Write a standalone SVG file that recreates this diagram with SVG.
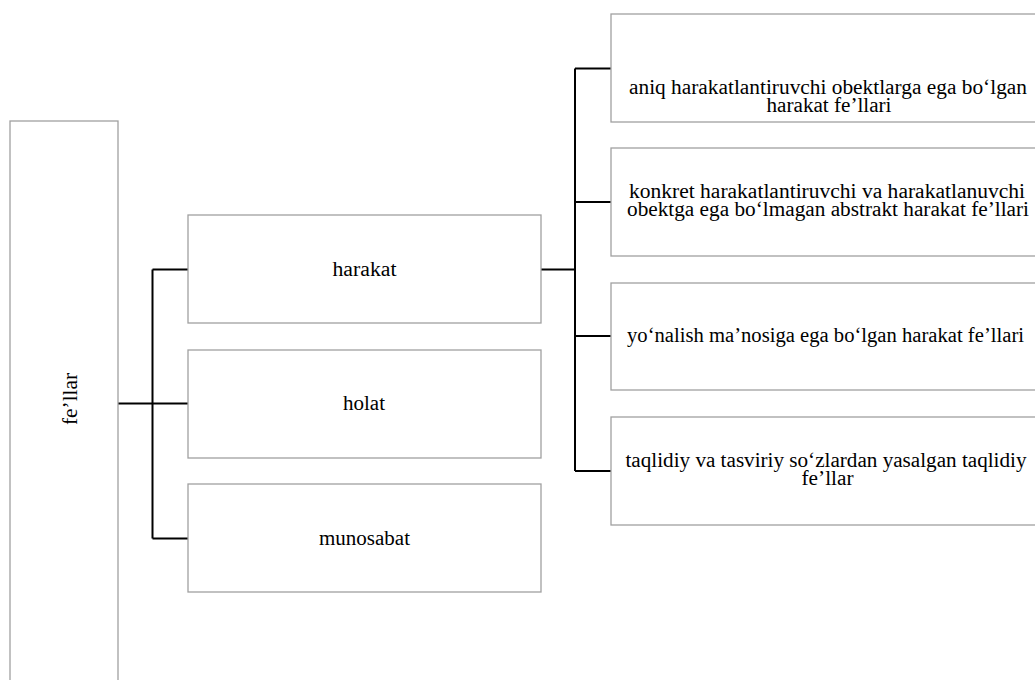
<svg xmlns="http://www.w3.org/2000/svg" width="1035" height="680" viewBox="0 0 1035 680">
<style>
.box{fill:#fff;stroke:#a0a0a0;stroke-width:1.3}
.t{font-family:"Liberation Serif","Times New Roman",serif;font-size:21.3px;fill:#000;text-anchor:middle}
.c{fill:none;stroke:#000;stroke-width:2}
</style>
<rect width="1035" height="680" fill="#fff"/>
<g id="connectors">
<path class="c" d="M118 403.5H188M152.5 269.5V538.5M152.5 269.5H188M152.5 538.5H188"/>
<path class="c" d="M541 269.5H575M575 68.5V471M575 68.5H611M575 202H611M575 336H611M575 471H611"/>
</g>
<g id="n-root"><rect class="box" x="10" y="121" width="108" height="600"/><text class="t" transform="translate(77,399) rotate(-90)">fe’llar</text></g>
<g id="n-harakat"><rect class="box" x="188" y="215" width="353" height="108"/><text class="t" x="364.5" y="276" textLength="64" lengthAdjust="spacingAndGlyphs">harakat</text></g>
<g id="n-holat"><rect class="box" x="188" y="350" width="353" height="108"/><text class="t" x="364" y="410" textLength="42" lengthAdjust="spacingAndGlyphs">holat</text></g>
<g id="n-munosabat"><rect class="box" x="188" y="484" width="353" height="108"/><text class="t" x="364.5" y="545" textLength="91" lengthAdjust="spacingAndGlyphs">munosabat</text></g>
<g id="n-r1"><rect class="box" x="611" y="14" width="440" height="108"/><text class="t" x="828" y="94" textLength="398" lengthAdjust="spacingAndGlyphs">aniq harakatlantiruvchi obektlarga ega bo‘lgan</text><text class="t" x="829" y="111.5" textLength="125" lengthAdjust="spacingAndGlyphs">harakat fe’llari</text></g>
<g id="n-r2"><rect class="box" x="611" y="148" width="440" height="108"/><text class="t" x="827" y="198" textLength="396" lengthAdjust="spacingAndGlyphs">konkret harakatlantiruvchi va harakatlanuvchi</text><text class="t" x="828" y="215.5" textLength="402" lengthAdjust="spacingAndGlyphs">obektga ega bo‘lmagan abstrakt harakat fe’llari</text></g>
<g id="n-r3"><rect class="box" x="611" y="283" width="440" height="107"/><text class="t" x="825.5" y="342" textLength="397" lengthAdjust="spacingAndGlyphs">yo‘nalish ma’nosiga ega bo‘lgan harakat fe’llari</text></g>
<g id="n-r4"><rect class="box" x="611" y="417" width="440" height="108"/><text class="t" x="826" y="467" textLength="401" lengthAdjust="spacingAndGlyphs">taqlidiy va tasviriy so‘zlardan yasalgan taqlidiy</text><text class="t" x="827.5" y="484.5" textLength="52" lengthAdjust="spacingAndGlyphs">fe’llar</text></g>
</svg>
